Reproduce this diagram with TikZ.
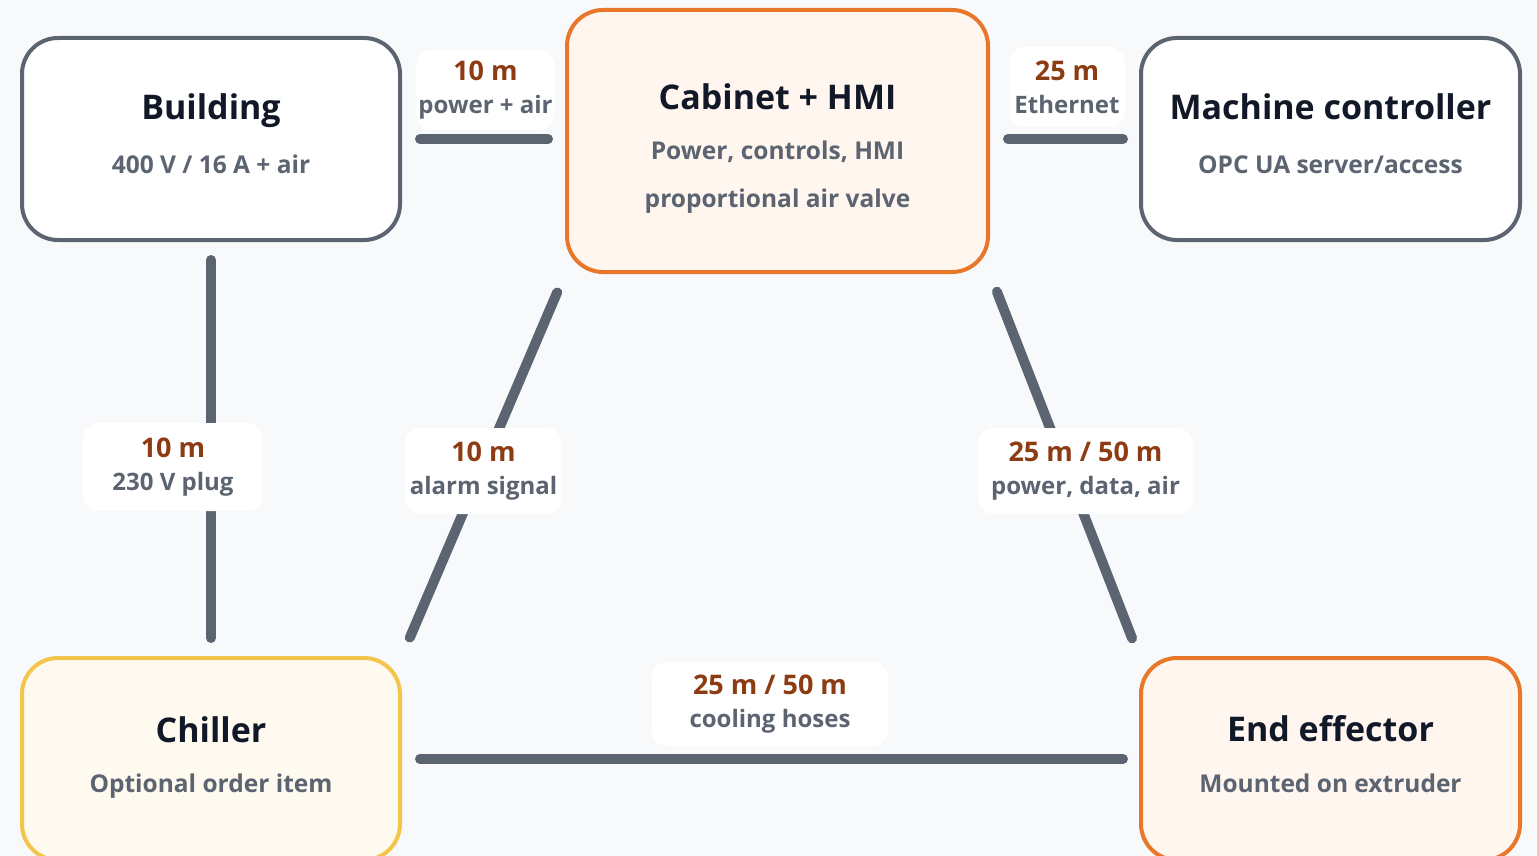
\documentclass[tikz,border=0pt]{standalone}
\usepackage{fontspec}
\setmainfont{Open Sans}
\usetikzlibrary{calc}
\definecolor{edge}{HTML}{5B6470}
\definecolor{ink}{HTML}{111827}
\definecolor{rust}{HTML}{8C3B12}
\definecolor{orangeline}{HTML}{E8772A}
\definecolor{orangefill}{HTML}{FFF6F0}
\definecolor{yellowline}{HTML}{F2C64B}
\definecolor{yellowfill}{HTML}{FFFAF0}
\definecolor{backdrop}{HTML}{F8F9FB}

\begin{document}
\begin{tikzpicture}[x=1pt,y=-1pt,
    unit/.style={draw=edge, line width=4, rounded corners=36, fill=white, minimum width=378, minimum height=202, inner sep=0},
    hotunit/.style={unit, draw=orangeline, fill=orangefill},
    coolunit/.style={unit, draw=yellowline, fill=yellowfill},
    cable/.style={draw=edge, line width=10, line cap=round, shorten <=18, shorten >=18},
    unitname/.style={text=ink, anchor=base, font=\fontsize{34}{38}\bfseries},
    unitnote/.style={text=edge, anchor=base, font=\fontsize{24.5}{28}\bfseries},
    cablelabel/.style={fill=white, rounded corners=16, align=center, text=edge, inner sep=2, minimum width=#1, minimum height=86, font=\fontsize{24}{33}\bfseries}]
    \useasboundingbox (0,0) rectangle (1537,856);
    \clip (0,0) rectangle (1537,856);
    \fill[backdrop] (0,0) rectangle (1537,856);

    % units
    \node[unit] (bld) at (211,139) {};
    \node[hotunit, minimum width=421, minimum height=262] (cab) at (777.5,141) {};
    \node[unit, minimum width=379] (mc) at (1330.5,139) {};
    \node[coolunit] (chl) at (211,759) {};
    \node[hotunit, minimum width=379] (eff) at (1330.5,759) {};

    \node[unitname] (bldname) at (211,120) {Building};
    \node[unitnote] (bldnote) at (211,173) {400 V / 16 A + air};
    \node[unitname] (cabname) at (777.5,110) {Cabinet + HMI};
    \node[unitnote] (cabnote) at (777.5,160) {Power, controls, HMI};
    \node[unitnote] (cabnote2) at (777.5,207) {proportional air valve};
    \node[unitname] (mcname) at (1330.5,120) {Machine controller};
    \node[unitnote] (mcnote) at (1330.5,173) {OPC UA server/access};
    \node[unitname] (chlname) at (211,742) {Chiller};
    \node[unitnote] (chlnote) at (211,792) {Optional order item};
    \node[unitname] (effname) at (1330.5,741) {End effector};
    \node[unitnote] (effnote) at (1330.5,792) {Mounted on extruder};

    % cables
    \draw[cable, shorten >=17] (bld.east) -- (cab.west |- bld.east);
    \draw[cable, shorten >=16] (cab.east |- mc.west) -- (mc.west);
    \draw[cable] (bld.south) -- (chl.north);
    \draw[cable, shorten >=16] (chl.east) -- (eff.west);
    \draw[cable, shorten <=20, shorten >=20] (cab.south west) -- (chl.north east);
    \draw[cable, shorten <=19, shorten >=19] (cab.south east) -- (eff.north west);

    % cable labels
    \node[cablelabel=126, minimum height=80] (lbc) at (485.5,90) {{\color{rust}\fontsize{27}{33}\selectfont 10 m}\\power + air};
    \node[cablelabel=116, minimum height=80] (lcm) at (1067,87) {{\color{rust}\fontsize{27}{33}\selectfont 25 m}\\Ethernet};
    \node[cablelabel=180, minimum height=88] (lbch) at (173,467) {{\color{rust}\fontsize{27}{33}\selectfont 10 m}\\230 V plug};
    \node[cablelabel=157] (lcch) at (483.5,471) {{\color{rust}\fontsize{27}{33}\selectfont 10 m}\\alarm signal};
    \node[cablelabel=215] (lce) at (1085.5,471) {{\color{rust}\fontsize{27}{33}\selectfont 25 m / 50 m}\\power, data, air};
    \node[cablelabel=236, minimum height=85] (lche) at (770,704) {{\color{rust}\fontsize{27}{33}\selectfont 25 m / 50 m}\\cooling hoses};
\end{tikzpicture}
\end{document}
